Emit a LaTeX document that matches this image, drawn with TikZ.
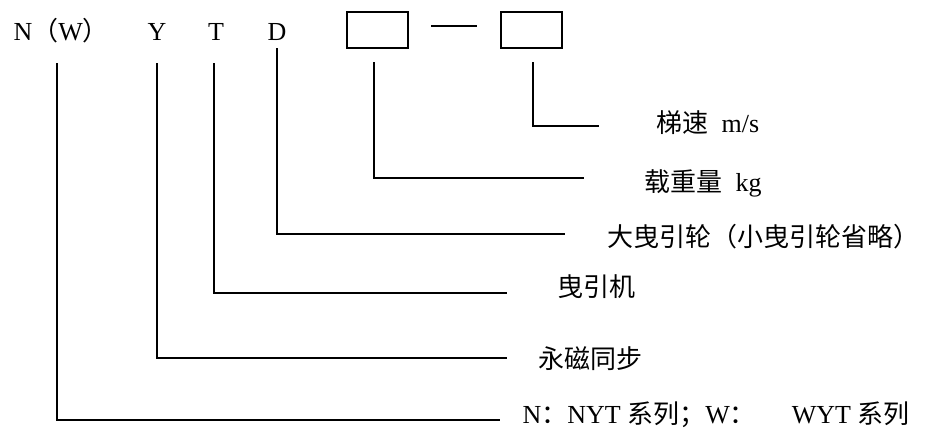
\documentclass[tikz,border=0pt]{standalone}
\usepackage{fontspec}
\setmainfont{Liberation Serif}
\newfontfamily\cjk{Noto Sans CJK SC}
\begin{document}
\begin{tikzpicture}[x=1pt,y=-1pt,
  line width=1.3pt,
  txt/.style={inner sep=0pt, font=\fontsize{26}{30}\selectfont},
  lbl/.style={txt, anchor=west},
  code/.style={txt, anchor=base},
  box/.style={draw, line width=1.5pt, minimum width=61pt, minimum height=36pt, inner sep=0pt},
  lead/.style={line width=1.3pt}]
\useasboundingbox (0,0) rectangle (928,432);
% top code
\node[txt, anchor=base west] (cN) at (13,40) {N{\cjk （}W{\cjk ）}};
\node[code] (cY) at (157,40) {Y};
\node[code] (cT) at (216,40) {T};
\node[code] (cD) at (277,40) {D};
\node[box] (b1) at (377.5,30) {};
\node[box] (b2) at (531.5,30) {};
\coordinate (dashL) at (431,26);
\coordinate (dashR) at (477,26);
\draw[lead] (dashL) -- (dashR);
% labels
\node[lbl] (l1) at (656,123) {{\cjk 梯速}\hspace{13pt}m/s};
\node[lbl] (l2) at (644,183) {{\cjk 载重量}\hspace{13pt}kg};
\node[lbl] (l3) at (607,237) {\cjk 大曳引轮（小曳引轮省略）};
\node[lbl] (l4) at (557,287) {\cjk 曳引机};
\node[lbl] (l5) at (538,359) {\cjk 永磁同步};
\node[lbl] (l6) at (522,415) {N{\cjk ：}NYT {\cjk 系列；}W{\cjk ：}\hspace{36pt}WYT {\cjk 系列}};
% leader start / end points
\coordinate (s1) at (533,62);  \coordinate (e1) at (599,126);
\coordinate (s2) at (374,62);  \coordinate (e2) at (584,178);
\coordinate (s3) at (277,48);  \coordinate (e3) at (565,234);
\coordinate (s4) at (214,63);  \coordinate (e4) at (507,293);
\coordinate (s5) at (157,63);  \coordinate (e5) at (507,358);
\coordinate (s6) at (57,63);   \coordinate (e6) at (500,420);
\draw[lead] (s1) |- (e1);
\draw[lead] (s2) |- (e2);
\draw[lead] (s3) |- (e3);
\draw[lead] (s4) |- (e4);
\draw[lead] (s5) |- (e5);
\draw[lead] (s6) |- (e6);
\end{tikzpicture}
\end{document}
